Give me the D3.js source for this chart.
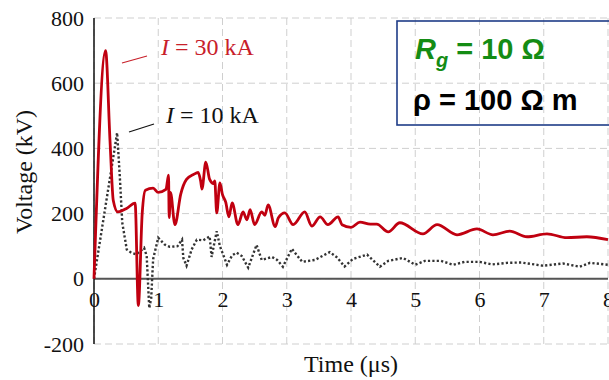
<!DOCTYPE html>
<html>
<head>
<meta charset="utf-8">
<script src="https://cdn.jsdelivr.net/npm/d3@7"></script>
<style>
  body { margin: 0; background: #fff; }
  svg { display: block; }
  .tick text { font-family: "Liberation Serif", "Times New Roman", serif; font-size: 22px; fill: #111; }
</style>
</head>
<body>
<svg id="canvas"></svg>
<script>
// Voltage vs time for two stroke currents

// I = 30 kA (solid red)
let time30 = [0, 0.18, 0.25, 0.30, 0.37, 0.50, 0.64, 0.69, 0.75, 0.80, 0.92, 1.0, 1.12, 1.16, 1.17, 1.19, 1.26,
  1.35, 1.44, 1.55, 1.62, 1.66, 1.68, 1.74, 1.80, 1.86, 1.88, 1.91, 1.96, 2.0, 2.05, 2.1, 2.15, 2.24, 2.32,
  2.38, 2.43, 2.5, 2.61, 2.66, 2.71, 2.82, 2.87, 2.97, 3.1, 3.28, 3.39, 3.52, 3.64, 3.8, 3.86, 4.0, 4.14,
  4.3, 4.4, 4.58, 4.76, 5.12, 5.34, 5.65, 5.96, 6.21, 6.47, 6.74, 7.05, 7.36, 7.67, 8.0]
let volt30 = [0, 700, 420, 240, 205, 215, 232, -82, 200, 272, 278, 265, 274, 318, 188, 265, 166,
  260, 305, 320, 326, 300, 275, 358, 305, 292, 300, 202, 294, 258, 235, 190, 233, 166, 205,
  181, 212, 166, 205, 195, 227, 160, 187, 202, 166, 205, 162, 190, 166, 190, 166, 158, 174,
  168, 168, 144, 172, 138, 166, 135, 153, 135, 146, 129, 138, 126, 129, 120]

// I = 10 kA (dotted black)
let time10 = [0, 0.36, 0.40, 0.44, 0.51, 0.58, 0.66, 0.78, 0.82, 0.86, 0.89, 0.92, 1.0, 1.1, 1.18, 1.3,
  1.37, 1.39, 1.44, 1.52, 1.6, 1.7, 1.8, 1.83, 1.91, 1.96, 2.07, 2.15, 2.22, 2.3, 2.4, 2.53, 2.61, 2.77,
  2.85, 2.94, 3.08, 3.24, 3.44, 3.67, 3.78, 3.9, 4.03, 4.25, 4.45, 4.58, 4.81, 5.0, 5.15, 5.4, 5.59,
  5.77, 6.0, 6.2, 6.43, 6.65, 6.99, 7.3, 7.56, 7.72, 8.0]
let volt10 = [0, 448, 320, 172, 90, 80, 75, 95, 70, -90, -60, 60, 126, 105, 98, 100,
  120, 64, 40, 90, 120, 118, 130, 67, 146, 100, 43, 72, 80, 70, 34, 104, 58, 67,
  58, 37, 92, 52, 58, 82, 66, 38, 61, 74, 37, 55, 64, 43, 55, 55, 43,
  52, 52, 44, 49, 50, 40, 47, 37, 49, 43]

let xTicks = [0, 1, 2, 3, 4, 5, 6, 7, 8]
let yTicks = [-200, 0, 200, 400, 600, 800]

let width = 609
let height = 380

let svg = d3.select('#canvas')
  .attr('width', width)
  .attr('height', height)

let xScale = d3.scaleLinear().domain([0, 8]).range([94, 608])
let yScale = d3.scaleLinear().domain([-200, 800]).range([344, 18])

// grid
let grid = svg.append('g')
grid.selectAll('.vgrid')
  .data(xTicks)
  .enter()
  .append('line')
  .attr('x1', d => xScale(d)).attr('x2', d => xScale(d))
  .attr('y1', yScale(800)).attr('y2', yScale(-200))
grid.selectAll('.hgrid')
  .data(yTicks)
  .enter()
  .append('line')
  .attr('x1', xScale(0)).attr('x2', xScale(8))
  .attr('y1', d => yScale(d)).attr('y2', d => yScale(d))
grid.selectAll('line')
  .attr('stroke', '#cfcfcf')
  .attr('stroke-width', 1)
  .attr('stroke-dasharray', '7,4')

// axes
let xAxis = d3.axisBottom(xScale).tickValues(xTicks).tickSize(0).tickPadding(13).tickFormat(d => String(d))
let yAxis = d3.axisLeft(yScale).tickValues(yTicks).tickSize(0).tickPadding(10).tickFormat(d => String(d))

svg.append('g')
  .attr('transform', `translate(0,${yScale(0)})`)
  .call(xAxis)
  .call(g => g.select('.domain').remove())

svg.append('g')
  .attr('transform', `translate(${xScale(0)},0)`)
  .call(yAxis)
  .call(g => g.select('.domain').remove())

svg.append('line')
  .attr('x1', xScale(0)).attr('x2', xScale(8))
  .attr('y1', yScale(0)).attr('y2', yScale(0))
  .attr('stroke', '#555').attr('stroke-width', 2)

svg.append('line')
  .attr('x1', xScale(0)).attr('x2', xScale(0))
  .attr('y1', yScale(800)).attr('y2', yScale(-200))
  .attr('stroke', '#111').attr('stroke-width', 1.5)

// axis titles
svg.append('text')
  .attr('x', 351).attr('y', 372)
  .attr('text-anchor', 'middle')
  .style('font-family', '"Liberation Serif", serif')
  .style('font-size', '24px')
  .attr('fill', '#111')
  .text('Time (\u03bcs)')

svg.append('text')
  .attr('transform', 'translate(32,172) rotate(-90)')
  .attr('text-anchor', 'middle')
  .style('font-family', '"Liberation Serif", serif')
  .style('font-size', '24px')
  .attr('fill', '#111')
  .text('Voltage (kV)')

// curves
let line = d3.line()
  .x(d => xScale(d[0]))
  .y(d => yScale(d[1]))

svg.append('path')
  .datum(time10.map((t, i) => [t, volt10[i]]))
  .attr('d', line.curve(d3.curveLinear))
  .attr('fill', 'none')
  .attr('stroke', '#333')
  .attr('stroke-width', 2.4)
  .attr('stroke-dasharray', '2.2,2.2')

svg.append('path')
  .datum(time30.map((t, i) => [t, volt30[i]]))
  .attr('d', line.curve(d3.curveMonotoneX))
  .attr('fill', 'none')
  .attr('stroke', '#c00010')
  .attr('stroke-width', 2.8)
  .attr('stroke-linejoin', 'round')

// curve labels
let lab30 = svg.append('text')
  .attr('x', 161).attr('y', 55)
  .style('font-family', '"Liberation Serif", serif')
  .style('font-size', '24px')
  .attr('fill', '#c8202a')
lab30.append('tspan').style('font-style', 'italic').text('I')
lab30.append('tspan').text(' = 30 kA')

svg.append('line')
  .attr('x1', 122).attr('y1', 63).attr('x2', 147).attr('y2', 56)
  .attr('stroke', '#c8202a').attr('stroke-width', 1.2)

let lab10 = svg.append('text')
  .attr('x', 166).attr('y', 123)
  .style('font-family', '"Liberation Serif", serif')
  .style('font-size', '24px')
  .attr('fill', '#111')
lab10.append('tspan').style('font-style', 'italic').text('I')
lab10.append('tspan').text(' = 10 kA')

svg.append('line')
  .attr('x1', 129).attr('y1', 132).attr('x2', 154).attr('y2', 124)
  .attr('stroke', '#111').attr('stroke-width', 1.2)

// parameter box
svg.append('rect')
  .attr('x', 397).attr('y', 21)
  .attr('width', 230).attr('height', 104)
  .attr('fill', 'none')
  .attr('stroke', '#1f3c88')
  .attr('stroke-width', 1.6)

let rg = svg.append('text')
  .attr('x', 415).attr('y', 59)
  .style('font-family', '"Liberation Sans", Arial, sans-serif')
  .style('font-size', '29px')
  .style('font-weight', 'bold')
  .attr('fill', '#148c14')
rg.append('tspan').style('font-style', 'italic').text('R')
rg.append('tspan').style('font-style', 'italic').style('font-size', '20px').attr('dy', 8).text('g')
rg.append('tspan').attr('dy', -8).text(' = 10 \u03a9')

svg.append('text')
  .attr('x', 413).attr('y', 110)
  .style('font-family', '"Liberation Sans", Arial, sans-serif')
  .style('font-size', '29px')
  .style('font-weight', 'bold')
  .attr('fill', '#000')
  .text('\u03c1 = 100 \u03a9 m')
</script>
</body>
</html>
